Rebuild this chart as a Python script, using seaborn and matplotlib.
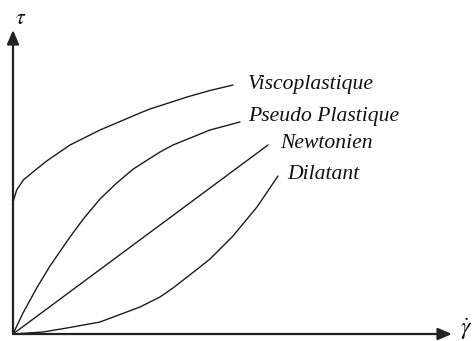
import matplotlib
matplotlib.use("Agg")
import matplotlib.pyplot as plt
import seaborn as sns
import pandas as pd

# Rheograms: shear stress tau versus shear rate gamma-dot (arbitrary units)
visco_x = [0, 3.7, 10.3, 20.3, 33.7, 57, 87, 127, 137, 174, 197, 220]
visco_y = [132, 144, 154, 162.3, 173, 189, 204, 221, 225, 237, 243.5, 249]

pseudo_x = [0, 10, 23.7, 37, 57, 70.3, 87, 103.7, 120.3, 147, 160, 197, 227]
pseudo_y = [0, 21, 46, 68, 97, 115, 135, 151, 165, 182, 189, 204, 212]

newton_x = [0, 255]
newton_y = [0, 189]

dilat_x = [0, 30, 54, 87, 127, 147, 160, 187, 197, 220, 244, 265]
dilat_y = [0, 2, 6, 12, 27, 37, 46, 67, 75, 98, 127, 158]

names = ["Viscoplastique", "Pseudo Plastique", "Newtonien", "Dilatant"]
label_pos = [(235, 249.5), (235, 217.5), (267, 190.5), (274, 159.5)]

frames = []
for name, xs, ys in zip(names,
                        [visco_x, pseudo_x, newton_x, dilat_x],
                        [visco_y, pseudo_y, newton_y, dilat_y]):
    frames.append(pd.DataFrame({"gamma": xs, "tau": ys, "fluide": name}))
df = pd.concat(frames, ignore_index=True)

sns.set_theme(style="white")
plt.rcParams["font.family"] = ["Liberation Serif", "DejaVu Serif"]
plt.rcParams["mathtext.fontset"] = "stix"

fig = plt.figure(figsize=(4.74, 3.41), dpi=100)
ax = fig.add_axes([0, 0, 1, 1])

sns.lineplot(data=df, x="gamma", y="tau", hue="fluide", units="fluide",
             estimator=None, sort=False, palette=["#1c1c1c"] * 4,
             linewidth=1.0, legend=False, ax=ax)

ink = "#222222"
arrow = dict(arrowstyle="-|>,head_length=0.7,head_width=0.3", lw=1.6,
             color=ink, shrinkA=0, shrinkB=0)
ax.annotate("", xy=(0, 304), xytext=(0, 0), arrowprops=arrow)
ax.annotate("", xy=(439, 0), xytext=(0, 0), arrowprops=arrow)

ax.text(8, 314, r"$\tau$", fontsize=16, ha="center", va="center", color="#111111")
ax.text(453, 5, r"$\dot{\gamma}$", fontsize=17, ha="center", va="center", color="#111111")

for name, (lx, ly) in zip(names, label_pos):
    ax.text(lx, ly, name, fontsize=15.6, style="italic", ha="left", va="center",
            color="#111111")

ax.set_xlim(-13, 461)
ax.set_ylim(-7, 334)
ax.set_axis_off()

fig.savefig("out.png", dpi=100, facecolor="white")
